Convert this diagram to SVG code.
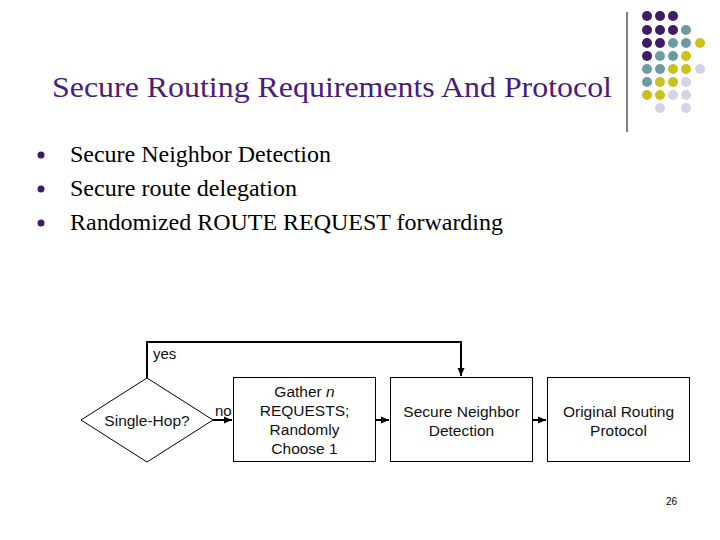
<svg xmlns="http://www.w3.org/2000/svg" width="720" height="540" viewBox="0 0 720 540">
<defs>
<style>
.title{font-family:"Liberation Serif","Times New Roman",serif;font-size:30px;fill:#4B1C7D}
.bul{font-family:"Liberation Serif","Times New Roman",serif;font-size:23.5px;fill:#000}
.lbl{font-family:"Liberation Sans",Arial,sans-serif;font-size:15.5px;fill:#111;text-anchor:middle}
.sm{font-family:"Liberation Sans",Arial,sans-serif;font-size:15px;fill:#111}
.box{fill:#fff;stroke:#000;stroke-width:1}
.con{fill:none;stroke:#000;stroke-width:2}
.p{fill:#3F1C66}.t{fill:#6D9B9F}.y{fill:#C9C21E}.l{fill:#D3D3E6}
</style>
<marker id="ah" markerUnits="userSpaceOnUse" markerWidth="10" markerHeight="10" viewBox="0 0 10 10" refX="9" refY="5" orient="auto">
<path d="M1,1.5 L9,5 L1,8.5 Z" fill="#000"/>
</marker>
</defs>
<rect width="720" height="540" fill="#fff"/>

<g id="decor">
<line x1="627" y1="12" x2="627" y2="132" stroke="#000" stroke-width="1"/>
<circle class="p" cx="647" cy="16" r="5"/><circle class="p" cx="660" cy="16" r="5"/><circle class="p" cx="673" cy="16" r="5"/>
<circle class="p" cx="647" cy="30" r="5"/><circle class="p" cx="660" cy="30" r="5"/><circle class="p" cx="673" cy="30" r="5"/><circle class="t" cx="686" cy="30" r="5"/>
<circle class="p" cx="647" cy="43" r="5"/><circle class="p" cx="660" cy="43" r="5"/><circle class="t" cx="673" cy="43" r="5"/><circle class="t" cx="686" cy="43" r="5"/><circle class="y" cx="700" cy="43" r="5"/>
<circle class="p" cx="647" cy="56" r="5"/><circle class="t" cx="660" cy="56" r="5"/><circle class="t" cx="673" cy="56" r="5"/><circle class="y" cx="686" cy="56" r="5"/>
<circle class="t" cx="647" cy="69" r="5"/><circle class="t" cx="660" cy="69" r="5"/><circle class="y" cx="673" cy="69" r="5"/><circle class="y" cx="686" cy="69" r="5"/><circle class="l" cx="700" cy="69" r="5"/>
<circle class="t" cx="647" cy="82" r="5"/><circle class="y" cx="660" cy="82" r="5"/><circle class="y" cx="673" cy="82" r="5"/><circle class="l" cx="686" cy="82" r="5"/>
<circle class="y" cx="647" cy="95" r="5"/><circle class="y" cx="660" cy="95" r="5"/><circle class="l" cx="673" cy="95" r="5"/><circle class="l" cx="686" cy="95" r="5"/>
<circle class="l" cx="660" cy="108" r="5"/><circle class="l" cx="686" cy="108" r="5"/>
</g>

<g id="title">
<text class="title" x="52" y="97" textLength="560" lengthAdjust="spacingAndGlyphs">Secure Routing Requirements  And Protocol</text>
</g>

<g id="bullets">
<circle cx="41" cy="155" r="3.5" fill="#3F1C66"/>
<circle cx="41" cy="189" r="3.5" fill="#3F1C66"/>
<circle cx="41" cy="223" r="3.5" fill="#3F1C66"/>
<text class="bul" x="70" y="162" textLength="261" lengthAdjust="spacingAndGlyphs">Secure Neighbor Detection</text>
<text class="bul" x="70" y="196" textLength="227" lengthAdjust="spacingAndGlyphs">Secure route delegation</text>
<text class="bul" x="70" y="230" textLength="433" lengthAdjust="spacingAndGlyphs">Randomized ROUTE REQUEST forwarding</text>
</g>

<g id="connectors">
<polyline class="con" points="147,378 147,342 461,342 461,376" marker-end="url(#ah)"/>
<line class="con" x1="213" y1="420" x2="232" y2="420" marker-end="url(#ah)"/>
<line class="con" x1="376" y1="420" x2="389" y2="420" marker-end="url(#ah)"/>
<line class="con" x1="533" y1="420" x2="546" y2="420" marker-end="url(#ah)"/>
<text class="sm" x="153" y="359">yes</text>
<text class="sm" x="215" y="416">no</text>
</g>

<g id="decision">
<polygon class="box" points="81,420 147,378 213,420 147,462"/>
<text class="lbl" x="147" y="426">Single-Hop?</text>
</g>

<g id="gather">
<rect class="box" x="233.5" y="377.5" width="142" height="84"/>
<text class="lbl" x="304.5" y="397">Gather <tspan font-style="italic">n</tspan></text>
<text class="lbl" x="304.5" y="416">REQUESTS;</text>
<text class="lbl" x="304.5" y="435">Randomly</text>
<text class="lbl" x="304.5" y="454">Choose 1</text>
</g>

<g id="neighbor">
<rect class="box" x="390.5" y="377.5" width="142" height="84"/>
<text class="lbl" x="461.5" y="417">Secure Neighbor</text>
<text class="lbl" x="461.5" y="436">Detection</text>
</g>

<g id="original">
<rect class="box" x="547.5" y="377.5" width="142" height="84"/>
<text class="lbl" x="618.5" y="417">Original Routing</text>
<text class="lbl" x="618.5" y="436">Protocol</text>
</g>

<g id="page">
<text x="666" y="505" font-family="Liberation Sans, Arial, sans-serif" font-size="10" fill="#000">26</text>
</g>
</svg>
